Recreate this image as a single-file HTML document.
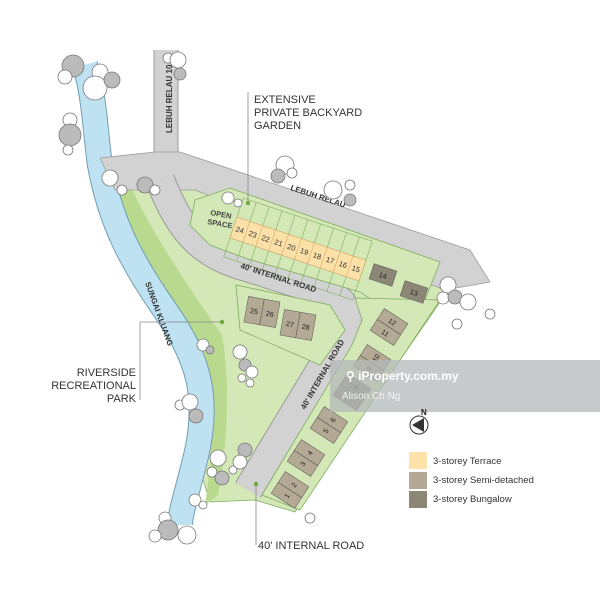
<!DOCTYPE html>
<html><head><meta charset="utf-8"><style>
html,body{margin:0;padding:0;background:#fff;}
svg{display:block;font-family:"Liberation Sans",sans-serif;}
</style></head><body>
<svg width="600" height="600" viewBox="0 0 600 600" xmlns="http://www.w3.org/2000/svg">
<!-- site green -->
<polygon points="100,165 180,160 445,258 447,292 295,512 255,500 210,502 200,470 210,420 190,360 160,300 125,230 105,175" fill="#d3e8b6" stroke="#7fae60" stroke-width="0.8"/>
<!-- darker strip near river -->
<path d="M112,185 C130,240 165,290 195,335 C215,380 215,440 205,505 L218,495 C228,440 230,380 222,335 C190,290 150,230 130,185 Z" fill="#b9d98e"/>
<!-- river -->
<path d="M85,65 C95,100 95,130 100,165 C110,220 130,260 165,310 C200,360 210,400 195,460 C185,500 180,515 180,525" fill="none" stroke="#6f9fb2" stroke-width="26" stroke-linecap="butt"/>
<path d="M85,65 C95,100 95,130 100,165 C110,220 130,260 165,310 C200,360 210,400 195,460 C185,500 180,515 180,525" fill="none" stroke="#bfe2f2" stroke-width="24" stroke-linecap="butt"/>
<!-- roads -->
<g fill="none" stroke-linejoin="round">
<path d="M166,50 L166,165" stroke="#9a9a9a" stroke-width="25"/>
<path d="M166,50 L166,165" stroke="#d2d2d2" stroke-width="23"/>
<polygon points="100,158 155,152 180,152 470,250 490,282 445,290 195,190 115,190" fill="#d2d2d2" stroke="#9a9a9a" stroke-width="0.8"/>
<path d="M160,180 C180,230 200,255 250,268 L325,292 C350,302 352,320 340,338 L248,490" stroke="#9a9a9a" stroke-width="30"/>
<path d="M160,180 C180,230 200,255 250,268 L325,292 C350,302 352,320 340,338 L248,490" stroke="#d2d2d2" stroke-width="28"/>
</g>
<!-- open space + terrace block green -->
<polygon points="195,200 230,188 440,262 425,300 372,300 360,292 245,258 210,245 190,225" fill="#d3e8b6" stroke="#7fae60" stroke-width="0.8"/>
<!-- east lots strip -->
<polygon points="355,298 440,300 300,510 262,495 352,345 362,320" fill="#d3e8b6" stroke="#7fae60" stroke-width="0.8"/>
<polygon points="236,285 330,305 345,330 320,365 240,330" fill="#d3e8b6" stroke="#7fae60" stroke-width="0.8"/>
<text x="210" y="215" font-size="7.5" fill="#444" transform="rotate(10 210 215)" font-weight="bold">OPEN</text>
<text x="207" y="224" font-size="7.5" fill="#444" transform="rotate(10 207 224)" font-weight="bold">SPACE</text>
<!-- terrace row -->
<g transform="translate(237,217) rotate(18.5)" font-size="7.5" fill="#333" text-anchor="middle">
<g stroke="#7fae60" stroke-width="0.6" fill="none">
<rect x="0" y="-20" width="136" height="62"/>
<line x1="13.6" y1="-20" x2="13.6" y2="42"/><line x1="27.2" y1="-20" x2="27.2" y2="42"/><line x1="40.8" y1="-20" x2="40.8" y2="42"/><line x1="54.4" y1="-20" x2="54.4" y2="42"/><line x1="68" y1="-20" x2="68" y2="42"/><line x1="81.6" y1="-20" x2="81.6" y2="42"/><line x1="95.2" y1="-20" x2="95.2" y2="42"/><line x1="108.8" y1="-20" x2="108.8" y2="42"/><line x1="122.4" y1="-20" x2="122.4" y2="42"/>
</g>
<rect x="0" y="0" width="136" height="22" fill="#fbe0a8" stroke="#c9a060" stroke-width="0.6"/>
<g stroke="#c9a060" stroke-width="0.5"><line x1="13.6" y1="0" x2="13.6" y2="22"/><line x1="27.2" y1="0" x2="27.2" y2="22"/><line x1="40.8" y1="0" x2="40.8" y2="22"/><line x1="54.4" y1="0" x2="54.4" y2="22"/><line x1="68" y1="0" x2="68" y2="22"/><line x1="81.6" y1="0" x2="81.6" y2="22"/><line x1="95.2" y1="0" x2="95.2" y2="22"/><line x1="108.8" y1="0" x2="108.8" y2="22"/><line x1="122.4" y1="0" x2="122.4" y2="22"/></g>
<text x="6.8" y="14">24</text><text x="20.4" y="14">23</text><text x="34" y="14">22</text><text x="47.6" y="14">21</text><text x="61.2" y="14">20</text><text x="74.8" y="14">19</text><text x="88.4" y="14">18</text><text x="102" y="14">17</text><text x="115.6" y="14">16</text><text x="129.2" y="14">15</text>
</g>
<!-- bungalows 14, 13 -->
<g font-size="7" fill="#222" text-anchor="middle">
<g transform="translate(383,275) rotate(18)"><rect x="-12" y="-8" width="24" height="16" fill="#8b8676" stroke="#555" stroke-width="0.5"/><text y="3">14</text></g>
<g transform="translate(414,292) rotate(18)"><rect x="-12" y="-8" width="24" height="16" fill="#8b8676" stroke="#555" stroke-width="0.5"/><text y="3">13</text></g>
<!-- semi 25-28 -->
<g transform="translate(262,312) rotate(10)"><rect x="-16" y="-13" width="16" height="26" fill="#b3a994" stroke="#555" stroke-width="0.5"/><rect x="0" y="-13" width="16" height="26" fill="#b3a994" stroke="#555" stroke-width="0.5"/><text x="-8" y="3">25</text><text x="8" y="3">26</text></g>
<g transform="translate(298,325) rotate(10)"><rect x="-16" y="-13" width="16" height="26" fill="#b3a994" stroke="#555" stroke-width="0.5"/><rect x="0" y="-13" width="16" height="26" fill="#b3a994" stroke="#555" stroke-width="0.5"/><text x="-8" y="3">27</text><text x="8" y="3">28</text></g>
<!-- east semi pairs -->
<g transform="translate(389,327) rotate(-57)"><rect x="-13" y="-14" width="13" height="28" fill="#b3a994" stroke="#555" stroke-width="0.5"/><rect x="0" y="-14" width="13" height="28" fill="#b3a994" stroke="#555" stroke-width="0.5"/><text x="-6.5" y="3" transform="rotate(90 -6.5 0)">11</text><text x="6.5" y="3" transform="rotate(90 6.5 0)">12</text></g>
<g transform="translate(372,363) rotate(-57)"><rect x="-13" y="-14" width="13" height="28" fill="#b3a994" stroke="#555" stroke-width="0.5"/><rect x="0" y="-14" width="13" height="28" fill="#b3a994" stroke="#555" stroke-width="0.5"/><text x="-6.5" y="3">9</text><text x="6.5" y="3">10</text></g>
<g transform="translate(352,392) rotate(-57)"><rect x="-13" y="-14" width="13" height="28" fill="#8b8676" stroke="#555" stroke-width="0.5"/><rect x="0" y="-14" width="13" height="28" fill="#8b8676" stroke="#555" stroke-width="0.5"/><text x="-6.5" y="3">7</text><text x="6.5" y="3">8</text></g>
<g transform="translate(329,425) rotate(-57)"><rect x="-13" y="-14" width="13" height="28" fill="#b3a994" stroke="#555" stroke-width="0.5"/><rect x="0" y="-14" width="13" height="28" fill="#b3a994" stroke="#555" stroke-width="0.5"/><text x="-6.5" y="3">5</text><text x="6.5" y="3">6</text></g>
<g transform="translate(306,458) rotate(-57)"><rect x="-13" y="-14" width="13" height="28" fill="#b3a994" stroke="#555" stroke-width="0.5"/><rect x="0" y="-14" width="13" height="28" fill="#b3a994" stroke="#555" stroke-width="0.5"/><text x="-6.5" y="3">3</text><text x="6.5" y="3">4</text></g>
<g transform="translate(290,490) rotate(-57)"><rect x="-13" y="-14" width="13" height="28" fill="#b3a994" stroke="#555" stroke-width="0.5"/><rect x="0" y="-14" width="13" height="28" fill="#b3a994" stroke="#555" stroke-width="0.5"/><text x="-6.5" y="3">1</text><text x="6.5" y="3">2</text></g>
</g>
<!-- road labels -->
<g font-size="8" fill="#333" font-weight="bold">
<text x="0" y="0" transform="translate(172,133) rotate(-90)">LEBUH RELAU 10</text>
<text x="0" y="0" transform="translate(290,190) rotate(18)">LEBUH RELAU</text>
<text x="0" y="0" transform="translate(240,268) rotate(18)">40' INTERNAL ROAD</text>
<text x="0" y="0" transform="translate(305,410) rotate(-60)">40' INTERNAL ROAD</text>
<text x="0" y="0" transform="translate(145,283) rotate(70)">SUNGAI KLUANG</text>
</g>
<!-- trees -->
<g fill="#fff" stroke="#777" stroke-width="0.8">
<circle cx="73" cy="66" r="11" fill="#bbb"/><circle cx="65" cy="77" r="7"/><circle cx="100" cy="72" r="8"/><circle cx="95" cy="88" r="12"/><circle cx="112" cy="80" r="8" fill="#bbb"/>
<circle cx="70" cy="120" r="7"/><circle cx="70" cy="135" r="11" fill="#bbb"/><circle cx="68" cy="150" r="5"/>
<circle cx="168" cy="58" r="5"/><circle cx="178" cy="60" r="8"/><circle cx="180" cy="74" r="6" fill="#bbb"/>
<circle cx="110" cy="178" r="8"/><circle cx="122" cy="190" r="5"/><circle cx="145" cy="185" r="8" fill="#bbb"/><circle cx="155" cy="190" r="5"/>
<circle cx="228" cy="198" r="6"/><circle cx="238" cy="203" r="4"/>
<circle cx="285" cy="165" r="9"/><circle cx="278" cy="176" r="7" fill="#bbb"/><circle cx="292" cy="173" r="5"/>
<circle cx="333" cy="190" r="9"/><circle cx="350" cy="185" r="5"/><circle cx="350" cy="200" r="6" fill="#bbb"/>
<circle cx="448" cy="285" r="8"/><circle cx="443" cy="298" r="6"/><circle cx="455" cy="297" r="7" fill="#bbb"/><circle cx="468" cy="302" r="8"/><circle cx="490" cy="314" r="5"/><circle cx="457" cy="324" r="5"/>
<circle cx="203" cy="345" r="6"/><circle cx="210" cy="350" r="4" fill="#bbb"/>
<circle cx="240" cy="352" r="7"/><circle cx="245" cy="365" r="6" fill="#bbb"/><circle cx="252" cy="372" r="6"/><circle cx="242" cy="378" r="4"/>
<circle cx="180" cy="405" r="5"/><circle cx="190" cy="402" r="8"/><circle cx="196" cy="416" r="7" fill="#bbb"/>
<circle cx="218" cy="458" r="8"/><circle cx="212" cy="472" r="5"/><circle cx="222" cy="478" r="7" fill="#bbb"/>
<circle cx="245" cy="450" r="7" fill="#bbb"/><circle cx="240" cy="462" r="7"/><circle cx="233" cy="470" r="4"/>
<circle cx="195" cy="500" r="6"/><circle cx="203" cy="505" r="4"/>
<circle cx="165" cy="518" r="6"/><circle cx="168" cy="530" r="10" fill="#bbb"/><circle cx="155" cy="536" r="6"/><circle cx="187" cy="535" r="9"/>
<circle cx="310" cy="518" r="5"/><circle cx="250" cy="383" r="4"/>
</g>
<!-- leaders and labels -->
<g stroke="#888" stroke-width="0.8" fill="none">
<line x1="248" y1="92" x2="248" y2="203"/>
<line x1="140" y1="322" x2="222" y2="322"/>
<line x1="140" y1="322" x2="140" y2="400"/>
<line x1="256" y1="485" x2="256" y2="545"/>
</g>
<g fill="#6caa40"><circle cx="248" cy="203" r="2.2"/><circle cx="222" cy="322" r="2.2"/><circle cx="256" cy="484" r="2.2"/></g>
<g font-size="11" fill="#333">
<text x="254" y="103">EXTENSIVE</text>
<text x="254" y="116">PRIVATE BACKYARD</text>
<text x="254" y="129">GARDEN</text>
<text x="136" y="376" text-anchor="end">RIVERSIDE</text>
<text x="136" y="389" text-anchor="end">RECREATIONAL</text>
<text x="136" y="402" text-anchor="end">PARK</text>
<text x="258" y="549">40' INTERNAL ROAD</text>
</g>
<!-- watermark -->
<rect x="330" y="360" width="270" height="52" fill="#b4b8ba" opacity="0.75"/>
<text x="346" y="380" font-size="12" fill="#fff" font-weight="bold">⚲ iProperty.com.my</text>
<text x="342" y="399" font-size="10" fill="#f2f2f2">Alison Ch Ng</text>
<!-- compass -->
<circle cx="419" cy="425" r="9" fill="#fff" stroke="#333" stroke-width="1"/>
<polygon points="424,418 424,432 412,425" fill="#333"/>
<text x="421" y="415" font-size="8" font-weight="bold" fill="#222">N</text>
<!-- legend -->
<rect x="409" y="452" width="18" height="17" fill="#fde2aa"/>
<rect x="409" y="472" width="18" height="17" fill="#b3a994"/>
<rect x="409" y="491" width="18" height="17" fill="#8b8676"/>
<g font-size="9.5" fill="#333">
<text x="433" y="464">3-storey Terrace</text>
<text x="433" y="483">3-storey Semi-detached</text>
<text x="433" y="502">3-storey Bungalow</text>
</g>
</svg>
</body></html>
